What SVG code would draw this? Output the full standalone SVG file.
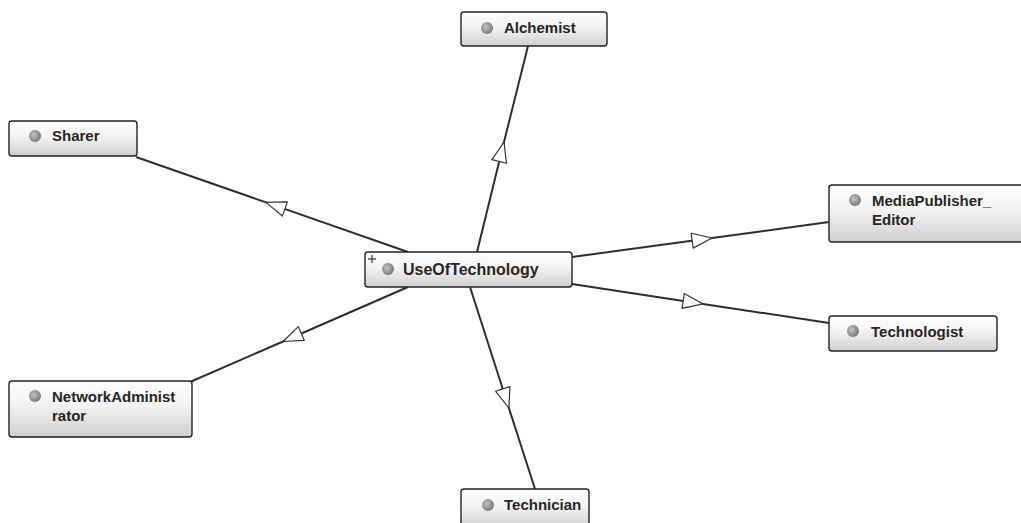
<svg xmlns="http://www.w3.org/2000/svg" width="1021" height="523" viewBox="0 0 1021 523">
  <style>
    .node rect.box { fill: url(#boxFill); stroke: #222; stroke-width: 1.4; }
    .node circle.icon { fill: url(#iconFill); }
    .node text { font-family: "Liberation Sans", Arial, sans-serif; font-weight: bold; font-size: 15px; fill: #262626; }
    #UseOfTechnology text { font-size: 16px; }
    .edge { fill: none; stroke: #2e2e2e; stroke-width: 2; marker-mid: url(#hollowArrow); }
  </style>
  <defs>
    <linearGradient id="boxFill" x1="0" y1="0" x2="0" y2="1">
      <stop offset="0" stop-color="#ffffff"/>
      <stop offset="0.45" stop-color="#f2f2f2"/>
      <stop offset="1" stop-color="#cfcfcf"/>
    </linearGradient>
    <radialGradient id="iconFill" cx="0.4" cy="0.4" r="0.6">
      <stop offset="0" stop-color="#c4c4c4"/>
      <stop offset="1" stop-color="#7a7a7a"/>
    </radialGradient>
    <marker id="hollowArrow" viewBox="-22 -10 24 20" markerWidth="24" markerHeight="20" refX="0" refY="0" orient="auto" markerUnits="userSpaceOnUse">
      <path d="M0,0 L-20,-7.5 L-20,7.5 Z" fill="#ffffff" stroke="#333" stroke-width="1.2" stroke-linejoin="round"/>
    </marker>
  </defs>

  <rect width="1021" height="523" fill="#ffffff"/>

  <!-- subclass links, drawn under the nodes; arrowheads sit mid-way and point outward -->
  <g id="connectors">
    <polyline class="edge" points="477,252 504,142 528,46"/>
    <polyline class="edge" points="408,252 266,202.4 136,157"/>
    <polyline class="edge" points="572,257 712,238 829,222"/>
    <polyline class="edge" points="572,284 703,303.9 829,323"/>
    <polyline class="edge" points="408,287 283,341.5 190,382"/>
    <polyline class="edge" points="470,287 508.9,408 535,489"/>
  </g>

  <g id="Alchemist" class="node">
    <rect class="box" x="461" y="12" width="146" height="34" rx="3"/>
    <circle class="icon" cx="487" cy="28" r="6"/>
    <text x="504" y="33">Alchemist</text>
  </g>

  <g id="Sharer" class="node">
    <rect class="box" x="9" y="121" width="128" height="35" rx="3"/>
    <circle class="icon" cx="35" cy="136" r="6"/>
    <text x="52" y="141">Sharer</text>
  </g>

  <g id="UseOfTechnology" class="node">
    <rect class="box" x="365" y="252" width="207" height="35" rx="3"/>
    <!-- expand toggle -->
    <g stroke="#333" stroke-width="1.2">
      <line x1="368" y1="259" x2="376" y2="259"/>
      <line x1="372" y1="255" x2="372" y2="263"/>
    </g>
    <circle class="icon" cx="388" cy="269" r="6"/>
    <text x="403" y="275">UseOfTechnology</text>
  </g>

  <g id="MediaPublisher_Editor" class="node">
    <rect class="box" x="829" y="185" width="200" height="57" rx="3"/>
    <circle class="icon" cx="855" cy="200" r="6"/>
    <text x="872" y="206">MediaPublisher_</text>
    <text x="872" y="225">Editor</text>
  </g>

  <g id="Technologist" class="node">
    <rect class="box" x="829" y="316" width="168" height="35" rx="3"/>
    <circle class="icon" cx="853" cy="331" r="6"/>
    <text x="871" y="337">Technologist</text>
  </g>

  <g id="NetworkAdministrator" class="node">
    <rect class="box" x="9" y="381" width="183" height="56" rx="3"/>
    <circle class="icon" cx="35" cy="396" r="6"/>
    <text x="52" y="402">NetworkAdminist</text>
    <text x="52" y="421">rator</text>
  </g>

  <g id="Technician" class="node">
    <rect class="box" x="461" y="489" width="128" height="40" rx="3"/>
    <circle class="icon" cx="488" cy="505" r="6"/>
    <text x="504" y="510">Technician</text>
  </g>
</svg>
